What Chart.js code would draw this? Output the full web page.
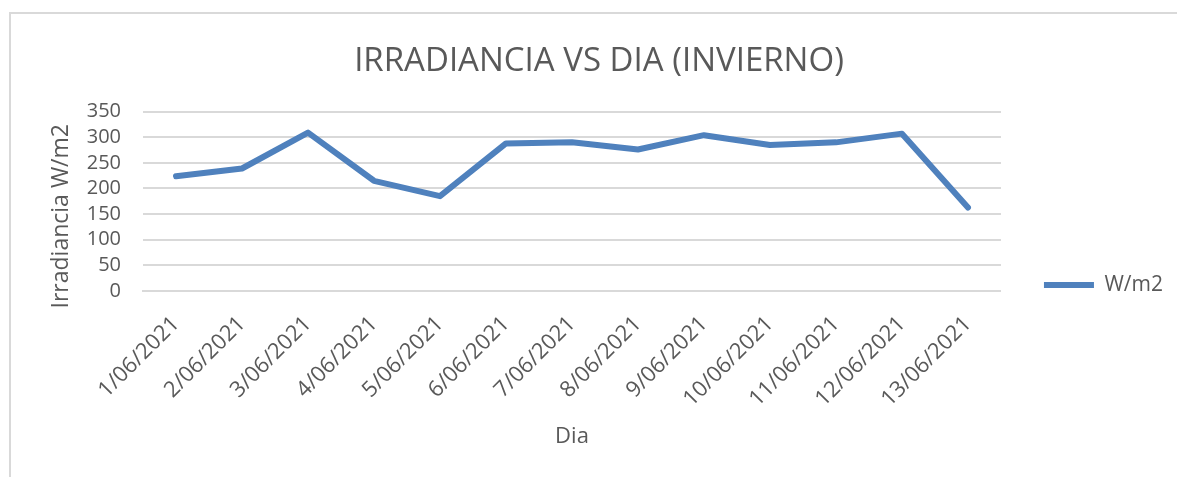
<!DOCTYPE html>
<html>
<head>
<meta charset="utf-8">
<script src="https://cdn.jsdelivr.net/npm/chart.js@4"></script>
<style>
  html, body { margin: 0; padding: 0; background: #fff; }
  #wrap { position: relative; width: 1177px; height: 477px; overflow: hidden; }
  #frame { position: absolute; left: 9px; top: 12px; width: 1180px; height: 480px; border-left: 2px solid #d9d9d9; border-top: 2px solid #d9d9d9; }
  canvas { position: absolute; left: 0; top: 0; }
</style>
</head>
<body>
<div id="wrap">
  <div id="frame"></div>
  <canvas id="irrChart" width="1177" height="477"></canvas>
</div>
<script>
// days (winter, June 2021)
const days = ['1/06/2021', '2/06/2021', '3/06/2021', '4/06/2021', '5/06/2021', '6/06/2021', '7/06/2021',
              '8/06/2021', '9/06/2021', '10/06/2021', '11/06/2021', '12/06/2021', '13/06/2021'];
// irradiance W/m2
const irradiance = [224, 239, 309, 215, 185, 288, 290, 276, 304, 285, 290, 307, 163];
const yMin = 0;
const yMax = 350;
const yStep = 50;

const textColor = '#595959';
const lineColor = '#4f81bd';
const gridColor = '#d9d9d9';
const fontFamily = '"Open Sans", "Noto Sans", sans-serif';

const ctx = document.getElementById('irrChart').getContext('2d');
const irrChart = new Chart(ctx, {
    type: 'line',
    data: {
        labels: days,
        datasets: [{
            label: 'W/m2',
            data: irradiance,
            borderColor: lineColor,
            backgroundColor: lineColor,
            borderWidth: 6,
            borderJoinStyle: 'round',
            borderCapStyle: 'round',
            pointRadius: 0,
            tension: 0
        }]
    },
    options: {
        responsive: false,
        animation: false,
        layout: { padding: { left: 25, right: 4, top: 0, bottom: 10 } },
        plugins: {
            title: {
                display: true,
                text: 'IRRADIANCIA VS DIA (INVIERNO)',
                color: textColor,
                font: { family: fontFamily, size: 33, weight: 'normal' },
                padding: { top: 42, bottom: 30 }
            },
            legend: {
                position: 'right',
                // empty legend title only pushes the entry down to the middle of the plot
                title: { display: true, text: ' ', font: { size: 1 }, padding: { top: 51, bottom: 51 } },
                labels: {
                    color: textColor,
                    font: { family: fontFamily, size: 21 },
                    usePointStyle: true,
                    pointStyle: 'line',
                    pointStyleWidth: 50,
                    padding: 43
                }
            },
            tooltip: { enabled: false }
        },
        scales: {
            x: {
                offset: true,
                afterFit: (scale) => { scale.height = 176; },
                grid: { display: false, drawTicks: false },
                border: { display: true, color: gridColor, width: 2 },
                ticks: {
                    color: textColor,
                    font: { family: fontFamily, size: 22 },
                    minRotation: 45,
                    maxRotation: 45,
                    autoSkip: false,
                    padding: 20
                },
                title: {
                    display: true,
                    text: 'Dia',
                    color: textColor,
                    font: { family: fontFamily, size: 22 },
                    padding: { top: 0, bottom: 17 }
                }
            },
            y: {
                min: yMin,
                max: yMax,
                afterFit: (scale) => { scale.width = 118; },
                grid: { color: gridColor, lineWidth: 2, drawTicks: false },
                border: { display: false },
                ticks: {
                    stepSize: yStep,
                    autoSkip: false,
                    color: textColor,
                    font: { family: fontFamily, size: 20 },
                    padding: 22
                },
                title: {
                    display: true,
                    text: 'Irradiancia W/m2\u00a0\u00a0\u00a0\u00a0\u00a0',
                    color: textColor,
                    font: { family: fontFamily, size: 23 },
                    padding: { top: 23, bottom: 0 }
                }
            }
        }
    }
});
</script>
</body>
</html>
